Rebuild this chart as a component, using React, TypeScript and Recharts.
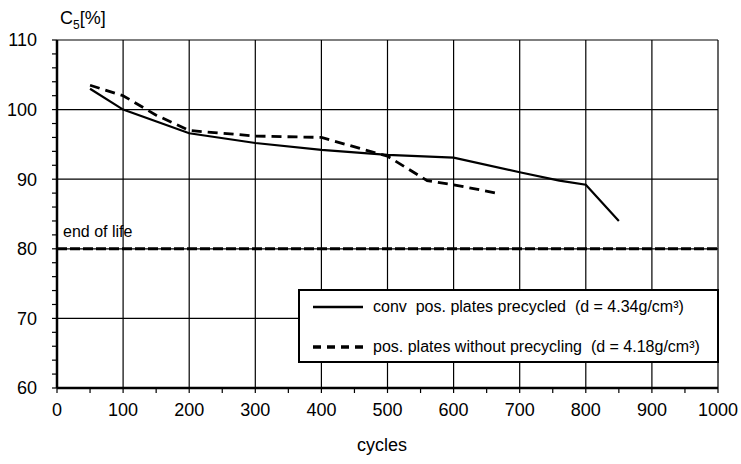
import {
  LineChart,
  Line,
  XAxis,
  YAxis,
  CartesianGrid,
  ReferenceLine,
} from "recharts";

// conv. pos. plates precycled
const convCycles = [50, 100, 200, 300, 400, 500, 600, 700, 760, 800, 850];
const convC5 = [103, 100, 96.6, 95.2, 94.2, 93.5, 93.1, 91.0, 89.8, 89.2, 84];

// pos. plates without precycling
const rawCycles = [50, 100, 150, 200, 300, 400, 500, 560, 600, 665];
const rawC5 = [103.5, 102, 99.2, 97, 96.2, 96, 93.3, 89.8, 89.2, 88];

const endOfLife = 80;

const xTicks = [0, 50, 100, 150, 200, 250, 300, 350, 400, 450, 500, 550, 600, 650, 700, 750, 800, 850, 900, 950, 1000];
const yTicks = [60, 62, 64, 66, 68, 70, 72, 74, 76, 78, 80, 82, 84, 86, 88, 90, 92, 94, 96, 98, 100, 102, 104, 106, 108, 110];
const xGrid = [100, 200, 300, 400, 500, 600, 700, 800, 900, 1000];
const yGrid = [70, 80, 90, 100, 110];

const convData = convCycles.map((c, i) => ({ c, v: convC5[i] }));
const rawData = rawCycles.map((c, i) => ({ c, v: rawC5[i] }));

const FONT = "'Liberation Sans', Arial, sans-serif";

function LegendBox() {
  return (
    <div
      style={{
        position: "absolute",
        left: 298,
        top: 289,
        width: 421,
        height: 74,
        border: "2px solid #000",
        background: "#fff",
        fontFamily: FONT,
        fontSize: 16,
        color: "#000",
        boxSizing: "border-box",
        paddingLeft: 13,
        whiteSpace: "nowrap",
      }}
    >
      <div style={{ display: "flex", alignItems: "center", height: 32 }}>
        <svg width={50} height={6} style={{ marginRight: 10 }}>
          <line x1={0} y1={3} x2={50} y2={3} stroke="#000" strokeWidth={2.5} />
        </svg>
        conv&nbsp; pos. plates precycled&nbsp; (d = 4.34g/cm³)
      </div>
      <div style={{ display: "flex", alignItems: "center", height: 48 }}>
        <svg width={50} height={6} style={{ marginRight: 10 }}>
          <line x1={0} y1={3} x2={50} y2={3} stroke="#000" strokeWidth={3.5} strokeDasharray="8 6" />
        </svg>
        pos. plates without precycling&nbsp; (d = 4.18g/cm³)
      </div>
    </div>
  );
}

export default function App() {
  return (
    <div style={{ position: "absolute", left: 0, top: 0, width: 741, height: 464, background: "#fff" }}>
      <LineChart
        width={741}
        height={464}
        margin={{ top: 40, right: 23, bottom: 46, left: 0 }}
        style={{ fontFamily: FONT }}
      >
        <CartesianGrid
          stroke="#000"
          strokeWidth={1.2}
          horizontalValues={yGrid}
          verticalValues={xGrid}
        />
        <XAxis
          type="number"
          dataKey="c"
          domain={[0, 1000]}
          ticks={xTicks}
          interval={0}
          height={30}
          tickSize={5}
          tickMargin={10}
          tickFormatter={(v: number) => (v % 100 === 0 ? String(v) : "")}
          tick={{ fill: "#000", fontSize: 18 }}
          axisLine={{ stroke: "#000", strokeWidth: 2.5 }}
          tickLine={{ stroke: "#000", strokeWidth: 1.2 }}
          allowDuplicatedCategory={false}
        />
        <YAxis
          type="number"
          domain={[60, 110]}
          ticks={yTicks}
          interval={0}
          width={57}
          tickSize={5}
          tickMargin={15}
          tickFormatter={(v: number) => (v % 10 === 0 ? String(v) : "")}
          tick={{ fill: "#000", fontSize: 18 }}
          axisLine={{ stroke: "#000", strokeWidth: 2.5 }}
          tickLine={{ stroke: "#000", strokeWidth: 1.2 }}
        />
        <ReferenceLine
          y={endOfLife}
          stroke="#000"
          strokeWidth={3}
          strokeDasharray="10 3"
          label={(props: any) => (
            <text
              x={props.viewBox.x + 6}
              y={props.viewBox.y - 12}
              fill="#000"
              fontSize={16}
              fontFamily={FONT}
            >
              end of life
            </text>
          )}
        />
        <Line
          data={convData}
          dataKey="v"
          stroke="#000"
          strokeWidth={2.2}
          dot={false}
          isAnimationActive={false}
        />
        <Line
          data={rawData}
          dataKey="v"
          stroke="#000"
          strokeWidth={2.8}
          strokeDasharray="10 6"
          dot={false}
          isAnimationActive={false}
        />
      </LineChart>
      <LegendBox />
      <div
        style={{
          position: "absolute",
          left: 60,
          top: 8,
          fontFamily: FONT,
          fontSize: 18,
          color: "#000",
        }}
      >
        C<sub style={{ fontSize: 12 }}>5</sub>[%]
      </div>
      <div
        style={{
          position: "absolute",
          left: 357,
          top: 435,
          fontFamily: FONT,
          fontSize: 18,
          color: "#000",
        }}
      >
        cycles
      </div>
    </div>
  );
}
